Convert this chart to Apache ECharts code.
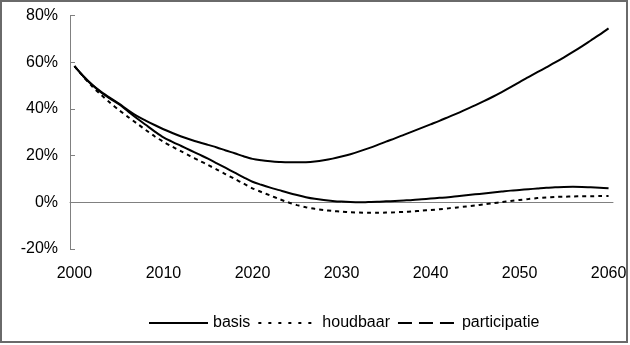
<!DOCTYPE html>
<html>
<head>
<meta charset="utf-8">
<script src="https://cdn.jsdelivr.net/npm/echarts@6/dist/echarts.min.js"></script>
<style>
html,body{margin:0;padding:0;background:#fff;}
#c{width:630px;height:345px;}
</style>
</head>
<body>
<div id="c"></div>
<script>
var years = [];
for (var y = 2000; y <= 2060; y++) years.push(String(y));

var yTicks = [-20, 0, 20, 40, 60, 80];

var basis = [
58.3, 54.0, 50.3, 47.3, 44.7, 42.3, 39.5, 37.0, 35.0, 33.1,
31.3, 29.7, 28.2, 26.9, 25.7, 24.6, 23.5, 22.2, 21.0, 19.7,
18.6, 18.0, 17.6, 17.3, 17.1, 17.1, 17.2, 17.5, 18.0, 18.7,
19.6, 20.6, 21.8, 23.1, 24.5, 26.0, 27.4, 28.9, 30.4, 31.9,
33.4, 34.9, 36.5, 38.1, 39.8, 41.5, 43.3, 45.2, 47.2, 49.3,
51.5, 53.6, 55.7, 57.8, 59.9, 62.1, 64.4, 66.8, 69.3, 71.8,
74.5];

var houdbaar = [
58.3, 53.8, 49.6, 46.0, 42.6, 39.5, 36.6, 33.8, 31.0, 28.3,
25.9, 23.8, 21.8, 19.8, 17.9, 16.0, 14.0, 12.0, 10.0, 8.0,
6.0, 4.4, 2.9, 1.4, 0.0, -1.2, -2.1, -2.8, -3.3, -3.7,
-4.0, -4.3, -4.4, -4.5, -4.5, -4.4, -4.3, -4.1, -3.9, -3.6,
-3.3, -3.0, -2.6, -2.2, -1.8, -1.4, -0.9, -0.4, 0.1, 0.6,
1.0, 1.4, 1.8, 2.1, 2.3, 2.4, 2.5, 2.6, 2.6, 2.7,
2.7];

var participatie = [
58.3, 54.0, 50.2, 47.0, 44.4, 42.0, 39.0, 36.0, 33.2, 30.4,
27.8, 25.9, 24.1, 22.3, 20.5, 18.7, 16.7, 14.7, 12.7, 10.7,
8.8, 7.5, 6.3, 5.2, 4.1, 3.1, 2.2, 1.5, 1.0, 0.6,
0.3, 0.1, 0.0, 0.1, 0.2, 0.4, 0.6, 0.8, 1.0, 1.3,
1.6, 1.9, 2.2, 2.6, 3.0, 3.4, 3.8, 4.2, 4.6, 5.0,
5.3, 5.6, 5.9, 6.2, 6.4, 6.6, 6.7, 6.6, 6.4, 6.2,
6.0];

var FONT = 'Liberation Sans';
var AXIS = '#808080';

var chart = echarts.init(document.getElementById('c'), null, {renderer: 'canvas'});
chart.setOption({
  animation: false,
  backgroundColor: '#ffffff',
  textStyle: {fontFamily: FONT},
  graphic: [{
    type: 'rect',
    shape: {x: 1, y: 1, width: 626, height: 341},
    style: {fill: 'none', stroke: '#6a6a6a', lineWidth: 2},
    silent: true, z: 100
  }],
  grid: {left: 70, right: 17, top: 15.5, bottom: 96, containLabel: false},
  legend: {
    left: 143, top: 310,
    itemWidth: 59, itemHeight: 14, itemGap: 7,
    itemStyle: {opacity: 0},
    textStyle: {fontFamily: FONT, fontSize: 16, color: '#000'},
    data: [
      {name: 'basis'},
      {name: 'houdbaar', lineStyle: {type: [3, 7], width: 2}},
      {name: 'participatie', lineStyle: {type: [14, 7], width: 2}}
    ]
  },
  xAxis: [{
    type: 'category',
    data: years,
    boundaryGap: true,
    axisLine: {onZero: true, lineStyle: {color: AXIS, width: 1}},
    axisTick: {interval: 9, length: 5, lineStyle: {color: AXIS}},
    axisLabel: {show: false},
    splitLine: {show: false}
  }, {
    type: 'category',
    data: years,
    boundaryGap: true,
    position: 'bottom',
    axisLine: {show: false, onZero: false},
    axisTick: {show: false},
    axisLabel: {interval: 9, margin: 17, fontFamily: FONT, fontSize: 16, color: '#000'},
    splitLine: {show: false}
  }],
  yAxis: {
    type: 'value',
    min: yTicks[0], max: yTicks[yTicks.length - 1], interval: 20,
    axisLine: {show: true, lineStyle: {color: AXIS, width: 1}},
    axisTick: {show: true, inside: true, length: 5, lineStyle: {color: AXIS}},
    axisLabel: {formatter: '{value}%', margin: 12, fontFamily: FONT, fontSize: 16, color: '#000'},
    splitLine: {show: false}
  },
  series: [{
    name: 'basis', type: 'line', xAxisIndex: 0, data: basis,
    symbol: 'none', smooth: 0.3,
    lineStyle: {color: '#000', width: 2, type: 'solid'},
    itemStyle: {color: '#000'}
  }, {
    name: 'houdbaar', type: 'line', xAxisIndex: 0, data: houdbaar,
    symbol: 'none', smooth: 0.3,
    lineStyle: {color: '#000', width: 2, type: [4, 4]},
    itemStyle: {color: '#000'}
  }, {
    name: 'participatie', type: 'line', xAxisIndex: 0, data: participatie,
    symbol: 'none', smooth: 0.3,
    lineStyle: {color: '#000', width: 2, type: 'solid'},
    itemStyle: {color: '#000'}
  }]
});
</script>
</body>
</html>
